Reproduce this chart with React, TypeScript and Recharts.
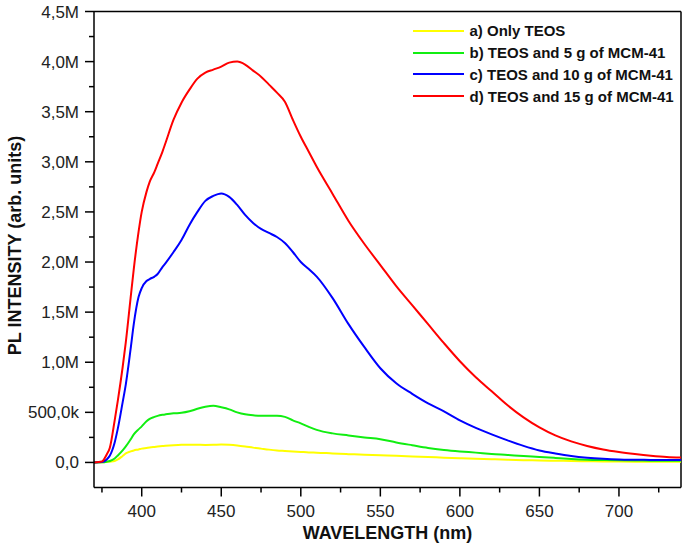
import React from 'react';
import { LineChart, Line, XAxis, YAxis, Legend, ReferenceLine } from 'recharts';

// wavelength in nm
const wavelengths = [
  370, 375, 378, 380, 383, 385, 388, 390, 393, 395, 398, 400, 403, 405, 408, 410, 413, 415,
  420, 425, 430, 435, 440, 445, 450, 455, 460, 465, 470, 475, 480, 485, 490, 495, 500, 505,
  510, 520, 530, 540, 550, 560, 570, 580, 590, 600, 610, 620, 630, 640, 650, 660, 670, 680,
  690, 700, 710, 720, 730, 739,
];

// PL intensity, in millions of counts
const onlyTeos = [
  0, 0.002, 0.004, 0.008, 0.015, 0.03, 0.065, 0.09, 0.11, 0.12, 0.13, 0.138, 0.145, 0.15, 0.155, 0.158, 0.163, 0.166,
  0.172, 0.176, 0.177, 0.176, 0.175, 0.176, 0.178, 0.176, 0.17, 0.16, 0.148, 0.138, 0.128, 0.12, 0.115, 0.11, 0.105, 0.1,
  0.098, 0.09, 0.083, 0.077, 0.072, 0.066, 0.06, 0.054, 0.048, 0.042, 0.037, 0.032, 0.027, 0.023, 0.02, 0.017, 0.015, 0.012,
  0.01, 0.009, 0.008, 0.007, 0.006, 0.006,
];
const teos5 = [
  0, 0.002, 0.008, 0.015, 0.04, 0.07, 0.12, 0.16, 0.23, 0.28, 0.33, 0.36, 0.41, 0.435, 0.455, 0.465, 0.475, 0.48,
  0.49, 0.495, 0.51, 0.535, 0.555, 0.565, 0.55, 0.53, 0.5, 0.48, 0.47, 0.465, 0.465, 0.465, 0.455, 0.42, 0.39, 0.355,
  0.325, 0.29, 0.27, 0.25, 0.232, 0.2, 0.172, 0.145, 0.125, 0.11, 0.098, 0.085, 0.075, 0.064, 0.055, 0.045, 0.035, 0.028,
  0.024, 0.021, 0.02, 0.018, 0.017, 0.016,
];
const teos10 = [
  0, 0.005, 0.03, 0.07, 0.2, 0.34, 0.6, 0.78, 1.13, 1.38, 1.65, 1.74, 1.81, 1.83, 1.855, 1.88, 1.95, 1.99,
  2.1, 2.22, 2.37, 2.5, 2.61, 2.66, 2.685, 2.65, 2.57, 2.47, 2.39, 2.33, 2.29, 2.25, 2.19, 2.1, 2.0, 1.93,
  1.855, 1.64, 1.38, 1.15, 0.94, 0.79, 0.685, 0.59, 0.51, 0.42, 0.345, 0.28, 0.22, 0.165, 0.12, 0.09, 0.065, 0.048,
  0.037, 0.03, 0.027, 0.025, 0.024, 0.024,
];
const teos15 = [
  0, 0.01, 0.08, 0.15, 0.42, 0.62, 0.95, 1.2, 1.64, 1.93, 2.3, 2.5, 2.7, 2.8, 2.9, 2.98, 3.1, 3.19,
  3.42, 3.59, 3.72, 3.83, 3.89, 3.92, 3.95, 3.99, 4.0, 3.97, 3.91, 3.85, 3.77, 3.69, 3.6, 3.42, 3.25, 3.1,
  2.95, 2.68, 2.41, 2.18, 1.97, 1.76, 1.57, 1.38, 1.19, 1.01, 0.85, 0.71, 0.57, 0.45, 0.35, 0.27, 0.21, 0.165,
  0.13, 0.105, 0.085, 0.068, 0.055, 0.05,
];

const seriesNames = [
  'a) Only TEOS',
  'b) TEOS and 5 g of MCM-41',
  'c) TEOS and 10 g of MCM-41',
  'd) TEOS and 15 g of MCM-41',
];
const seriesColors = ['#ffff00', '#11ee11', '#0000ff', '#ff0000'];

const xTicks = [375, 400, 425, 450, 475, 500, 525, 550, 575, 600, 625, 650, 675, 700, 725];
const yTicks = [
  0, 250000, 500000, 750000, 1000000, 1250000, 1500000, 1750000, 2000000, 2250000,
  2500000, 2750000, 3000000, 3250000, 3500000, 3750000, 4000000, 4250000, 4500000,
];

const data = wavelengths.map((wl, i) => ({
  wl,
  a: onlyTeos[i] * 1e6,
  b: teos5[i] * 1e6,
  c: teos10[i] * 1e6,
  d: teos15[i] * 1e6,
}));

const FONT = '"Liberation Sans", Arial, sans-serif';

const fmtY = (v: number) => {
  if (v === 0) return '0,0';
  if (v < 1e6) return (v / 1000).toFixed(1).replace('.', ',') + 'k';
  return (v / 1e6).toFixed(1).replace('.', ',') + 'M';
};

const YTick = (props: any) => {
  const { x, y, payload } = props;
  const major = payload.value % 500000 === 0;
  return (
    <g>
      <line x1={x - (major ? 9 : 5)} x2={x} y1={y} y2={y} stroke="#000" strokeWidth={1.5} />
      {major && (
        <text x={x - 15} y={y} dy={6} textAnchor="end" fontSize={17} fontFamily={FONT} fill="#222">
          {fmtY(payload.value)}
        </text>
      )}
    </g>
  );
};

const XTick = (props: any) => {
  const { x, y, payload } = props;
  const major = payload.value % 50 === 0;
  return (
    <g>
      <line x1={x} x2={x} y1={y} y2={y + (major ? 9 : 5)} stroke="#000" strokeWidth={1.5} />
      {major && (
        <text x={x} y={y + 29.5} textAnchor="middle" fontSize={17} fontFamily={FONT} fill="#222">
          {payload.value}
        </text>
      )}
    </g>
  );
};

const renderLegend = (props: any) => {
  const { payload } = props;
  return (
    <div style={{ fontFamily: FONT, fontWeight: 'bold', fontSize: 15, color: '#111' }}>
      {payload.map((item: any) => (
        <div key={item.value} style={{ display: 'flex', alignItems: 'center', height: 21.8 }}>
          <span style={{ display: 'inline-block', width: 51, height: 2, background: item.color, marginRight: 6 }} />
          <span style={{ whiteSpace: 'nowrap' }}>{item.value}</span>
        </div>
      ))}
    </div>
  );
};

export default function App() {
  const keys = ['a', 'b', 'c', 'd'];
  return (
    <div style={{ position: 'absolute', left: 0, top: 0, background: '#fff' }}>
      <LineChart width={685} height={546} data={data} margin={{ top: 11.5, right: 4, left: 0, bottom: 0 }}>
        <XAxis
          dataKey="wl"
          type="number"
          domain={[370, 739]}
          ticks={xTicks}
          interval={0}
          height={58.5}
          tickSize={0}
          tickMargin={0}
          tickLine={false}
          tick={<XTick />}
          axisLine={{ stroke: '#000', strokeWidth: 1.5 }}
          allowDataOverflow
          label={{
            content: ({ viewBox }: any) => (
              <text
                x={viewBox.x + viewBox.width / 2}
                y={viewBox.y + 51}
                textAnchor="middle"
                fontSize={18}
                fontWeight="bold"
                fontFamily={FONT}
                fill="#111"
              >
                WAVELENGTH (nm)
              </text>
            ),
          }}
        />
        <YAxis
          type="number"
          domain={[-250000, 4500000]}
          ticks={yTicks}
          interval={0}
          width={94}
          tickSize={0}
          tickMargin={0}
          tickLine={false}
          tick={<YTick />}
          axisLine={{ stroke: '#000', strokeWidth: 1.5 }}
          allowDataOverflow
          label={{
            content: ({ viewBox }: any) => {
              const cy = viewBox.y + viewBox.height / 2 - 4;
              return (
                <text
                  x={20.5}
                  y={cy}
                  transform={`rotate(-90, 20.5, ${cy})`}
                  textAnchor="middle"
                  fontSize={18}
                  fontWeight="bold"
                  fontFamily={FONT}
                  fill="#111"
                >
                  PL INTENSITY (arb. units)
                </text>
              );
            },
          }}
        />
        <ReferenceLine x={739} stroke="#000" strokeWidth={1.5} />
        <ReferenceLine y={4500000} stroke="#000" strokeWidth={1.5} />
        {keys.map((k, i) => (
          <Line
            key={k}
            type="monotone"
            dataKey={k}
            name={seriesNames[i]}
            stroke={seriesColors[i]}
            strokeWidth={2}
            dot={false}
            isAnimationActive={false}
          />
        ))}
        <Legend
          layout="horizontal"
          verticalAlign="middle"
          align="center"
          content={renderLegend}
          wrapperStyle={{ left: 412.5, top: 20, width: 272 }}
        />
      </LineChart>
    </div>
  );
}
